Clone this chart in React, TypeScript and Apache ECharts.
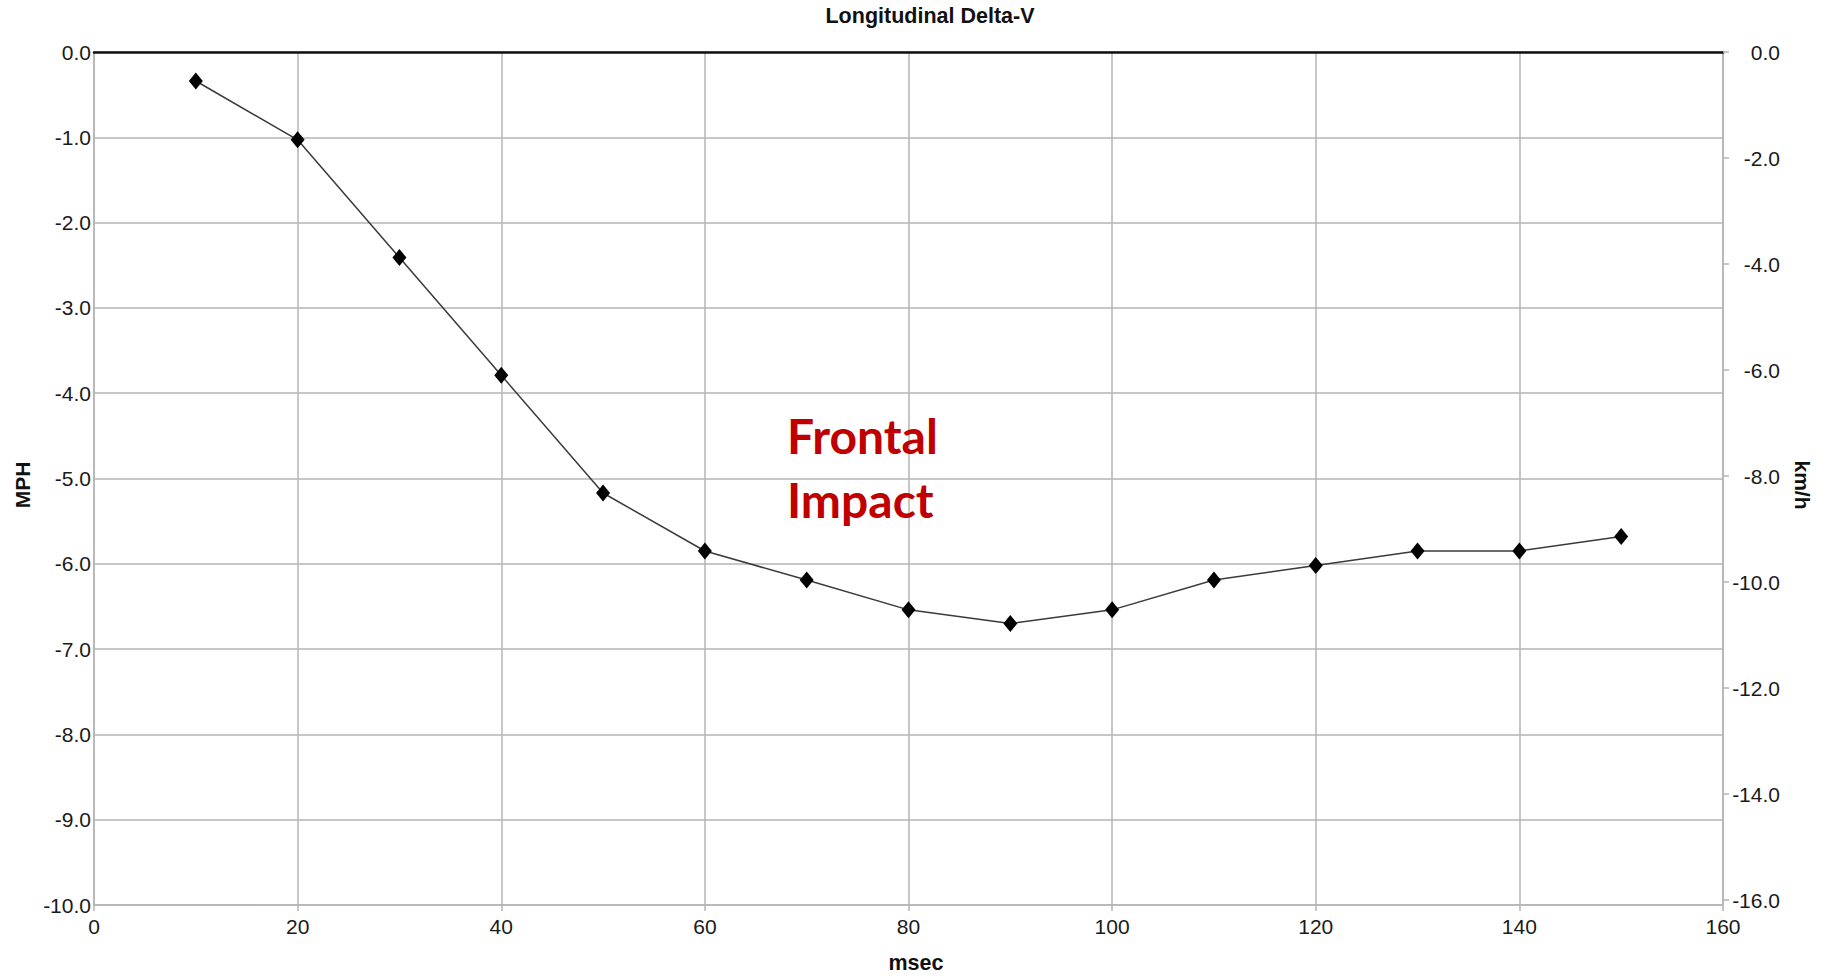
import React, { useEffect, useRef } from "react";
import * as echarts from "echarts";

const msec = [10, 20, 30, 40, 50, 60, 70, 80, 90, 100, 110, 120, 130, 140, 150];
const deltaVMph = [-0.34, -1.03, -2.41, -3.79, -5.17, -5.85, -6.19, -6.54, -6.7, -6.54, -6.19, -6.02, -5.85, -5.85, -5.68];
const kmhTicks = [0, -2, -4, -6, -8, -10, -12, -14, -16];
const titleText = "Longitudinal Delta-V";
const xName = "msec";
const leftName = "MPH";
const rightName = "km/h";
const annotationLines = ["Frontal", "Impact"];

const GRID = "#b4b4b4";
const LABEL = "#1a1a1a";
const FONT = "'Liberation Sans', Arial, sans-serif";

export default function App() {
  const ref = useRef<HTMLDivElement>(null);
  useEffect(() => {
    if (!ref.current) return;
    const chart = echarts.init(ref.current, null, { renderer: "svg" });
    const data = msec.map((x, i) => [x, deltaVMph[i]]);
    const nameStyle = (text: string, size: number) => ({
      text,
      font: `bold ${size}px ${FONT}`,
      fill: "#111",
      align: "center",
      verticalAlign: "middle",
    });
    chart.setOption({
      animation: false,
      backgroundColor: "#ffffff",
      textStyle: { fontFamily: FONT },
      grid: { left: 94, right: 103, top: 52, bottom: 75, containLabel: false },
      graphic: [
        { type: "text", x: 930, y: 16, style: nameStyle(titleText, 21.5) },
        { type: "text", x: 916, y: 963, style: nameStyle(xName, 21.5) },
        { type: "text", x: 22, y: 485, rotation: Math.PI / 2, style: nameStyle(leftName, 21) },
        { type: "text", x: 1802, y: 485, rotation: -Math.PI / 2, style: nameStyle(rightName, 21) },
        {
          type: "text",
          x: 787,
          y: 435,
          z: 10,
          style: {
            text: annotationLines[0],
            font: "bold 48px Lato, 'Open Sans', sans-serif",
            fill: "#c00000",
            align: "left",
            verticalAlign: "middle",
          },
        },
        {
          type: "text",
          x: 787,
          y: 499,
          z: 10,
          style: {
            text: annotationLines[1],
            font: "bold 48px Lato, 'Open Sans', sans-serif",
            fill: "#c00000",
            align: "left",
            verticalAlign: "middle",
          },
        },
      ],
      xAxis: [
        {
          type: "value",
          position: "bottom",
          min: 0,
          max: 160,
          interval: 20,
          axisLine: { show: true, onZero: false, lineStyle: { color: GRID, width: 1.5 } },
          axisTick: { show: true, length: 6, lineStyle: { color: GRID, width: 1.5 } },
          axisLabel: { fontFamily: FONT, fontSize: 21, color: LABEL, margin: 11 },
          splitLine: { show: true, lineStyle: { color: GRID, width: 1.5 } },
        },
        {
          type: "value",
          position: "top",
          min: 0,
          max: 160,
          interval: 20,
          axisLine: { show: true, onZero: false, lineStyle: { color: "#111", width: 2.5 } },
          axisTick: { show: false },
          axisLabel: { show: false },
          splitLine: { show: false },
        },
      ],
      yAxis: [
        {
          type: "value",
          position: "left",
          min: -10,
          max: 0,
          interval: 1,
          axisLine: { show: true, onZero: false, lineStyle: { color: GRID, width: 1.5 } },
          axisTick: { show: false },
          axisLabel: {
            fontFamily: FONT,
            fontSize: 21,
            color: LABEL,
            margin: 3,
            formatter: (v: number) => v.toFixed(1),
          },
          splitLine: { show: true, lineStyle: { color: GRID, width: 1.5 } },
        },
        {
          type: "value",
          position: "right",
          min: -16.0934,
          max: 0,
          axisLine: { show: true, onZero: false, lineStyle: { color: GRID, width: 1.5 } },
          axisTick: {
            show: true,
            length: 6,
            customValues: kmhTicks,
            lineStyle: { color: GRID, width: 1.5 },
          },
          axisLabel: {
            fontFamily: FONT,
            fontSize: 21,
            color: LABEL,
            margin: 57,
            align: "right",
            customValues: kmhTicks,
            formatter: (v: number) => v.toFixed(1),
          },
          splitLine: { show: false },
        },
      ],
      series: [
        {
          type: "line",
          xAxisIndex: 0,
          yAxisIndex: 0,
          data,
          symbol: "diamond",
          symbolSize: [14, 17],
          lineStyle: { color: "#3a3a3a", width: 1.5 },
          itemStyle: { color: "#000" },
          z: 5,
        },
      ],
    });
    return () => chart.dispose();
  }, []);
  return (
    <div
      ref={ref}
      style={{ position: "fixed", left: 0, top: 0, width: 1826, height: 980, background: "#fff" }}
    />
  );
}
